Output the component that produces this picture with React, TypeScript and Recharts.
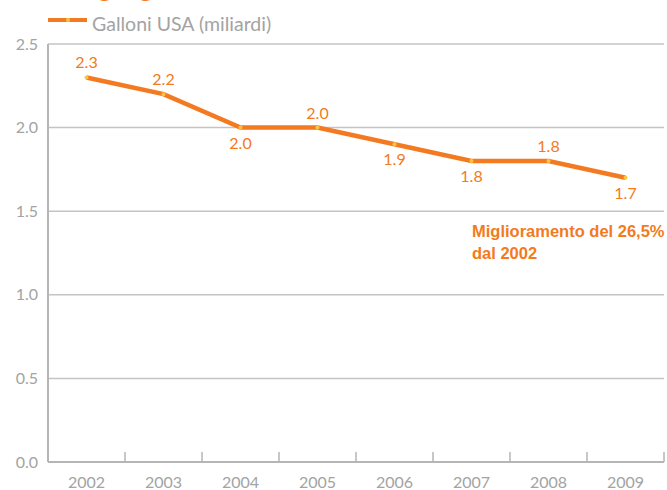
import {
  CartesianGrid,
  LabelList,
  Line,
  LineChart,
  XAxis,
  YAxis,
} from "recharts";

const years = ["2002", "2003", "2004", "2005", "2006", "2007", "2008", "2009"];
const gallons = [2.3, 2.2, 2.0, 2.0, 1.9, 1.8, 1.8, 1.7];
const labelSide = ["top", "top", "bottom", "top", "bottom", "bottom", "top", "bottom"];
const yTicks = [0, 0.5, 1.0, 1.5, 2.0, 2.5];

const seriesName = "Galloni USA (miliardi)";
const note = ["Miglioramento del 26,5%", "dal 2002"];

const data = years.map((year, i) => ({ year, value: gallons[i] }));

const ORANGE = "#f37a20";
const GRAY = "#a3a3a3";
const AXIS = "#b5b5b5";
const FONT = "Lato, 'Open Sans', sans-serif";
const TICK_SIZE = 6;
const TICK_MARGIN = 7;

function ValueLabel(props: any) {
  const { x, y, value, index } = props;
  const below = labelSide[index] === "bottom";
  return (
    <text
      x={x}
      y={below ? y + 21 : y - 9}
      textAnchor="middle"
      fill={ORANGE}
      fontSize={16}
      fontFamily={FONT}
    >
      {Number(value).toFixed(1)}
    </text>
  );
}

// year label plus the small tick marks that sit between categories
function YearTick(props: any) {
  const { x, y, payload, index, visibleTicksCount } = props;
  const half = payload?.offset ?? 0;
  const axisY = y - TICK_SIZE - TICK_MARGIN;
  const isLast = index === visibleTicksCount - 1;
  return (
    <g>
      {index > 0 && (
        <line x1={x - half} x2={x - half} y1={axisY - 10} y2={axisY} stroke={AXIS} strokeWidth={1.5} />
      )}
      {isLast && (
        <line x1={x + half} x2={x + half} y1={axisY - 10} y2={axisY} stroke={AXIS} strokeWidth={1.5} />
      )}
      <text x={x} y={y} dy={13} textAnchor="middle" fill={GRAY} fontSize={16} fontFamily={FONT}>
        {payload.value}
      </text>
    </g>
  );
}

function LegendBox() {
  return (
    <svg width={300} height={34} style={{ position: "absolute", left: 48, top: 4 }}>
      <line x1={0} y1={16} x2={39} y2={16} stroke={ORANGE} strokeWidth={4} />
      <circle cx={20} cy={16} r={2} fill="#f8c640" />
      <text x={44} y={27} fill={GRAY} fontSize={19.5} fontFamily={FONT}>
        {seriesName}
      </text>
    </svg>
  );
}

export default function App() {
  return (
    <div style={{ position: "absolute", left: 0, top: 0, width: 667, height: 490, background: "#fff", overflow: "hidden" }}>
      <div
        style={{
          position: "absolute",
          left: 44,
          top: -31,
          color: ORANGE,
          fontFamily: FONT,
          fontSize: 27,
          whiteSpace: "nowrap",
        }}
      >
        Energia gestita
      </div>
      <LegendBox />
      <LineChart
        width={667}
        height={490}
        data={data}
        margin={{ top: 44, right: 3, left: 0, bottom: 0 }}
      >
        <CartesianGrid vertical={false} stroke="#c4c4c4" strokeWidth={1.5} />
        <XAxis
          dataKey="year"
          scale="band"
          height={28}
          interval={0}
          axisLine={{ stroke: AXIS, strokeWidth: 2 }}
          tickLine={false}
          tickSize={TICK_SIZE}
          tickMargin={TICK_MARGIN}
          tick={<YearTick />}
        />
        <YAxis
          width={48}
          domain={[0, 2.5]}
          ticks={yTicks}
          tickFormatter={(v: number) => v.toFixed(1)}
          axisLine={{ stroke: AXIS, strokeWidth: 2 }}
          tickLine={false}
          tickMargin={4}
          tick={{ fill: GRAY, fontSize: 16, fontFamily: FONT }}
        />
        <Line
          type="linear"
          dataKey="value"
          name={seriesName}
          stroke={ORANGE}
          strokeWidth={4.5}
          dot={{ r: 2, fill: "#f8c640", stroke: "#f8c640", strokeWidth: 0 }}
          activeDot={false}
          isAnimationActive={false}
        >
          <LabelList dataKey="value" content={<ValueLabel />} />
        </Line>
      </LineChart>
      <div
        style={{
          position: "absolute",
          left: 472,
          top: 220,
          color: ORANGE,
          fontFamily: "'Liberation Sans', Arial, sans-serif",
          fontWeight: "bold",
          fontSize: 16.5,
          lineHeight: "22px",
          whiteSpace: "nowrap",
        }}
      >
        {note[0]}
        <br />
        {note[1]}
      </div>
    </div>
  );
}
